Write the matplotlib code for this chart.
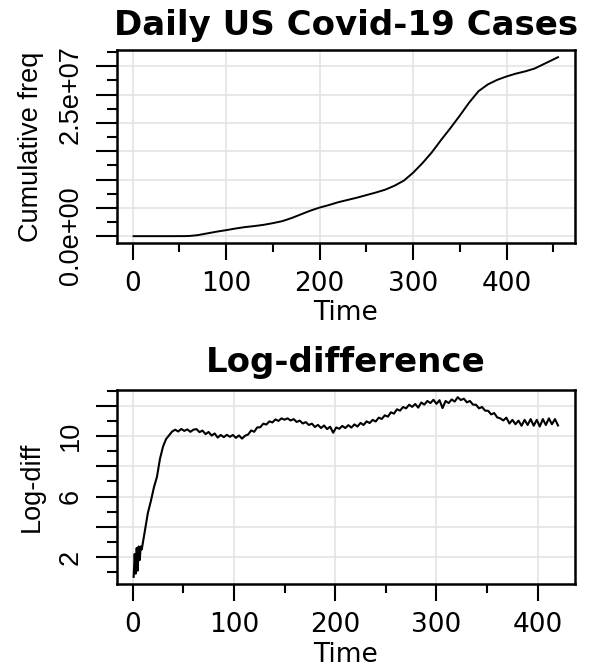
import numpy as np
import matplotlib
matplotlib.use("Agg")
import matplotlib.pyplot as plt
from matplotlib.ticker import FixedLocator, FixedFormatter

# cumulative US cases (millions)
cum_day = [1, 20, 40, 55, 60, 65, 70, 75, 80, 90, 100, 110, 120, 130, 140, 150,
           160, 170, 180, 190, 200, 210, 220, 230, 240, 250, 260, 270, 280, 290,
           300, 310, 320, 330, 340, 350, 360, 370, 380, 390, 400, 410, 420, 430,
           440, 450, 455]
cum_mil = [0.0, 0.0, 0.0, 0.01, 0.03, 0.1, 0.19, 0.35, 0.5, 0.8, 1.06, 1.35, 1.6,
           1.78, 2.0, 2.3, 2.65, 3.2, 3.85, 4.5, 5.05, 5.5, 6.0, 6.4, 6.8, 7.25,
           7.7, 8.2, 8.9, 9.8, 11.2, 12.9, 14.8, 17.0, 19.1, 21.3, 23.6, 25.6,
           26.8, 27.6, 28.2, 28.7, 29.1, 29.6, 30.4, 31.2, 31.6]

# log of daily new cases: first ten days daily, then every third day
ld_early = [0.69, 2.2, 0.9, 2.6, 1.1, 2.7, 1.8, 2.7, 2.5, 2.9]
ld_rest = [3.7, 4.9, 5.7, 6.6, 7.3, 8.5, 9.3, 9.8, 10.05, 10.3,
           10.42, 10.3, 10.47, 10.34, 10.44, 10.28, 10.42, 10.46, 10.26, 10.36,
           10.13, 10.27, 10.03, 10.17, 9.9, 10.07, 9.93, 10.08, 9.95, 10.07,
           9.88, 10.04, 9.83, 10.02, 10.1, 10.37, 10.28, 10.57, 10.58, 10.82,
           10.76, 10.97, 10.9, 11.1, 11.0, 11.17, 11.08, 11.17, 11.03, 11.12,
           10.93, 11.02, 10.83, 10.92, 10.73, 10.82, 10.6, 10.74, 10.53, 10.7,
           10.46, 10.62, 10.22, 10.57, 10.48, 10.67, 10.53, 10.72, 10.56, 10.77,
           10.63, 10.87, 10.73, 10.97, 10.86, 11.07, 10.96, 11.22, 11.13, 11.37,
           11.28, 11.57, 11.48, 11.77, 11.68, 11.92, 11.83, 12.07, 11.93, 12.12,
           11.88, 12.22, 12.08, 12.32, 12.18, 12.4, 12.13, 12.37, 11.85, 12.32,
           12.18, 12.42, 12.28, 12.57, 12.38, 12.47, 12.23, 12.32, 12.08, 12.07,
           11.83, 11.92, 11.68, 11.67, 11.43, 11.52, 11.23, 11.17, 11.03, 11.22,
           10.83, 11.07, 10.78, 11.02, 10.68, 11.07, 10.73, 11.12, 10.68, 11.07,
           10.63, 11.12, 10.73, 11.17, 10.78, 11.12, 10.7]
ld_day = list(range(1, 11)) + list(range(12, 423, 3))
ld_val = ld_early + ld_rest

x_major = [0, 100, 200, 300, 400]
x_labels = ["0", "100", "200", "300", "400"]

ROT_FONT = "Liberation Sans"


def r_limits(vals):
    lo, hi = min(vals), max(vals)
    r = hi - lo
    return lo - 0.04 * r, hi + 0.04 * r


def style_axes(ax):
    for s in ax.spines.values():
        s.set_linewidth(1.8)
    ax.grid(True, which="major", color="#e2e2e2", linewidth=1.1)
    ax.set_axisbelow(True)
    ax.tick_params(axis="x", which="major", length=12.5, width=1.5,
                   labelsize=19, pad=7.5)
    ax.tick_params(axis="x", which="minor", length=6.5, width=1.5)
    ax.tick_params(axis="y", which="major", length=15, width=1.5, pad=8.6)
    ax.tick_params(axis="y", which="minor", length=7.5, width=1.5)


fig = plt.figure(figsize=(6.08, 6.67), dpi=100)

# ---- top panel: cumulative counts
ax1 = fig.add_axes([0.1919, 0.6352, 0.7538, 0.2898])
cum = np.array(cum_mil) * 1e6
ax1.plot(cum_day, cum, color="black", linewidth=1.4)
ax1.set_xlim(*r_limits(cum_day))
ax1.set_ylim(*r_limits(cum))
style_axes(ax1)
ax1.xaxis.set_major_locator(FixedLocator(x_major))
ax1.xaxis.set_major_formatter(FixedFormatter(x_labels))
ax1.xaxis.set_minor_locator(FixedLocator([50, 150, 250, 350, 450]))
y1_major = [0, 5e6, 1e7, 1.5e7, 2e7, 2.5e7, 3e7]
ax1.set_yticks(y1_major)
ax1.set_yticklabels(["0.0e+00", "", "", "", "", "2.5e+07", ""],
                    rotation=90, va="center", fontsize=19.5, family=ROT_FONT)
ax1.yaxis.set_minor_locator(FixedLocator([2.5e6, 7.5e6, 1.25e7, 1.75e7,
                                          2.25e7, 2.75e7, 3.25e7]))
ax1.set_xlabel("Time", fontsize=19, va="baseline")
ax1.xaxis.set_label_coords(0.5, -0.397)
ax1.set_ylabel("Cumulative freq", fontsize=19.5, family=ROT_FONT, va="center")
ax1.yaxis.set_label_coords(-0.186, 0.5)
fig.text(0.569, 0.9475, "Daily US Covid-19 Cases", fontsize=24.5,
         fontweight="bold", ha="center", va="baseline")

# ---- bottom panel: log of differences
ax2 = fig.add_axes([0.1919, 0.1244, 0.7538, 0.2909])
ax2.plot(ld_day, ld_val, color="black", linewidth=1.5)
ax2.set_xlim(*r_limits(ld_day))
ax2.set_ylim(*r_limits(ld_val))
style_axes(ax2)
ax2.xaxis.set_major_locator(FixedLocator(x_major))
ax2.xaxis.set_major_formatter(FixedFormatter(x_labels))
ax2.xaxis.set_minor_locator(FixedLocator([50, 150, 250, 350]))
ax2.set_yticks([2, 4, 6, 8, 10, 12])
ax2.set_yticklabels(["2", "", "6", "", "10", ""],
                    rotation=90, va="center", fontsize=19.5, family=ROT_FONT)
ax2.yaxis.set_minor_locator(FixedLocator([1, 3, 5, 7, 9, 11, 13]))
ax2.set_xlabel("Time", fontsize=19, va="baseline")
ax2.xaxis.set_label_coords(0.5, -0.402)
ax2.set_ylabel("Log-diff", fontsize=19.5, family=ROT_FONT, va="center")
ax2.yaxis.set_label_coords(-0.186, 0.5)
fig.text(0.569, 0.4427, "Log-difference", fontsize=24.5,
         fontweight="bold", ha="center", va="baseline")

fig.savefig("out.png", dpi=100)
